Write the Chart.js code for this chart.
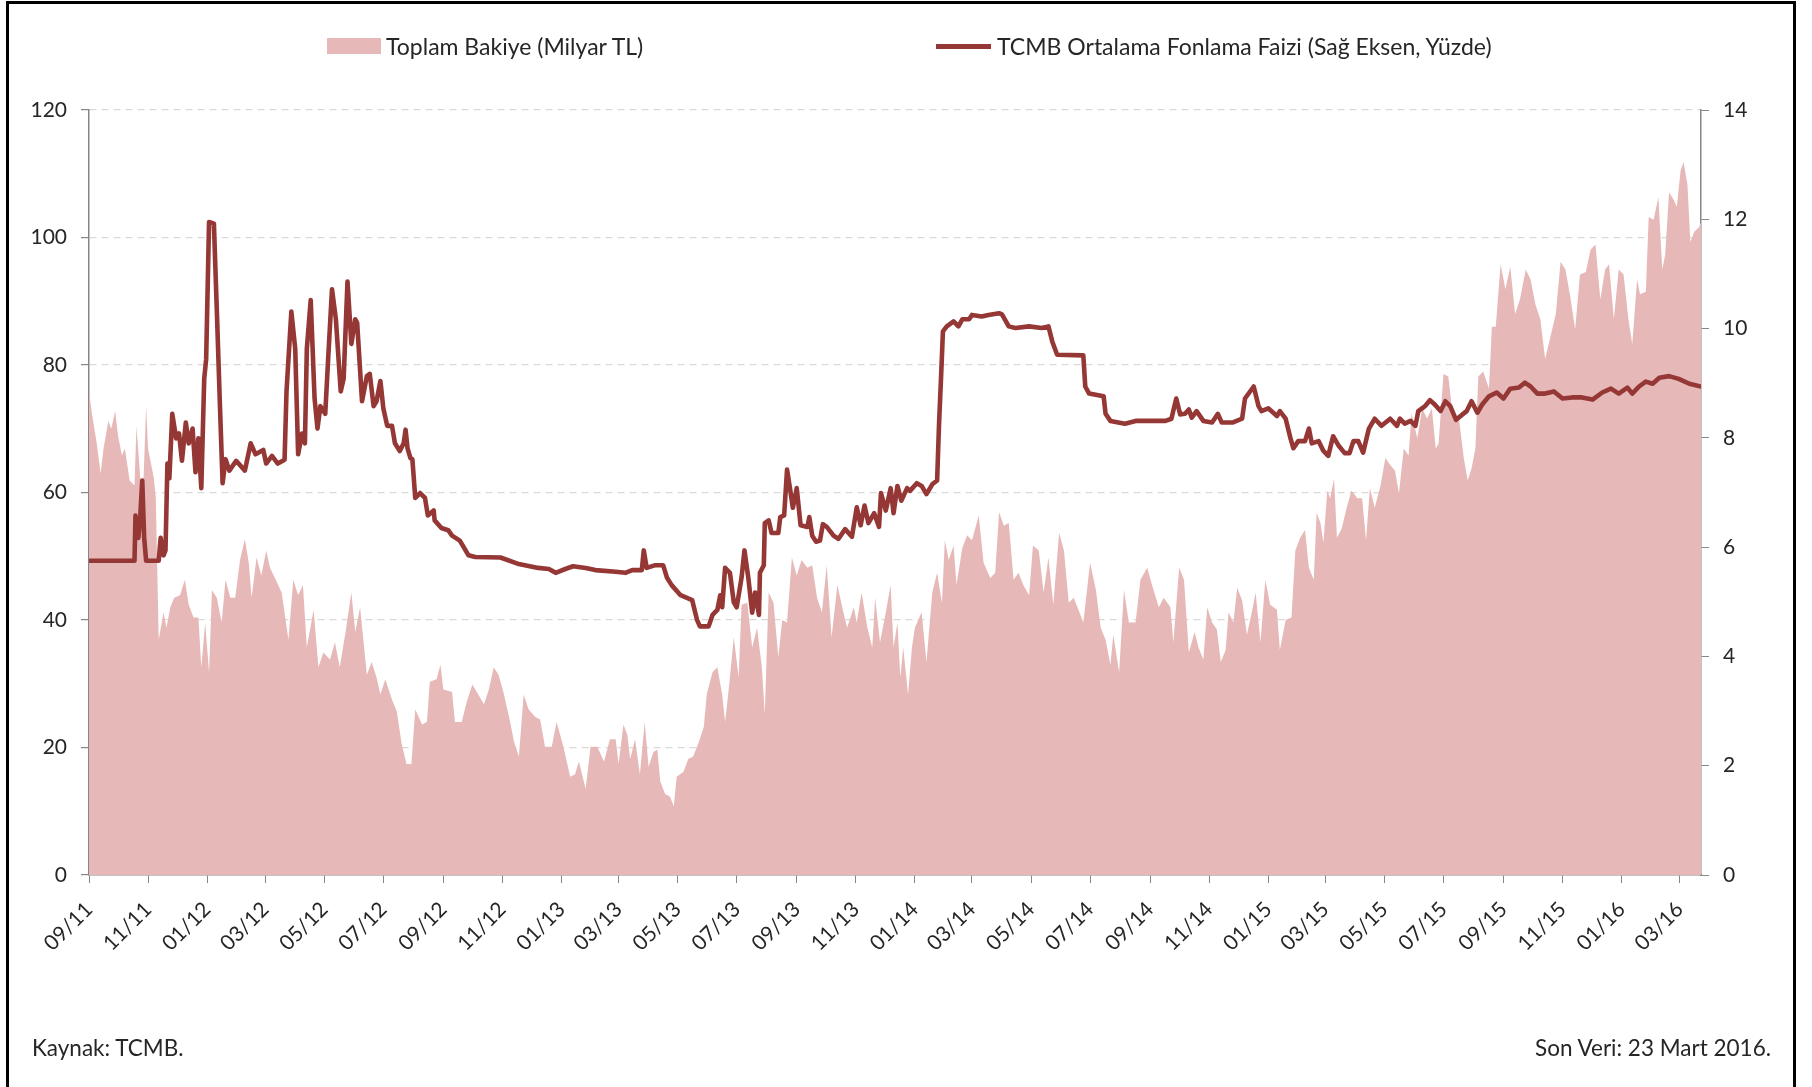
<!DOCTYPE html>
<html>
<head>
<meta charset="utf-8">
<script src="https://cdn.jsdelivr.net/npm/chart.js@4.4.0/dist/chart.umd.min.js"></script>
<style>
  body { margin: 0; background: #fff; width: 1812px; height: 1087px; overflow: hidden; position: relative; font-family: Lato, "Open Sans", sans-serif; color: #262626; }
  #frame { position: absolute; left: 6px; top: 1px; width: 1790px; height: 1100px; border: 3px solid #000; border-bottom: none; box-sizing: border-box; }
  #chart { position: absolute; left: 0; top: 0; }
  .txt { position: absolute; font-size: 23px; line-height: 26px; white-space: nowrap; }
  .foot { font-size: 22.5px; }
  .box { position: absolute; left: 327px; top: 38px; width: 54px; height: 16px; background: #e6b9b8; }
  .dash { position: absolute; left: 936px; top: 44px; width: 55px; height: 5px; background: #953735; }
</style>
</head>
<body>
<canvas id="chart" width="1812" height="1087"></canvas>
<div id="frame"></div>
<div class="box"></div>
<div class="txt" style="left:386px;top:33px">Toplam Bakiye (Milyar TL)</div>
<div class="dash"></div>
<div class="txt" style="left:997px;top:33px">TCMB Ortalama Fonlama Faizi (Sağ Eksen, Yüzde)</div>
<div class="txt foot" style="left:32px;top:1035px">Kaynak: TCMB.</div>
<div class="txt foot" style="right:41px;top:1035px">Son Veri: 23 Mart 2016.</div>
<script>
'use strict';

// gün sayısı: 1 Eylül 2011'den itibaren
var START = Date.UTC(2011, 8, 1);
var LAST = Date.UTC(2016, 2, 23);

var tickLabels = ['09/11', '11/11', '01/12', '03/12', '05/12', '07/12', '09/12', '11/12', '01/13', '03/13',
    '05/13', '07/13', '09/13', '11/13', '01/14', '03/14', '05/14', '07/14', '09/14', '11/14',
    '01/15', '03/15', '05/15', '07/15', '09/15', '11/15', '01/16', '03/16'];

var leftTicks = [0, 20, 40, 60, 80, 100, 120];
var rightTicks = [0, 2, 4, 6, 8, 10, 12, 14];

// TCMB Ortalama Fonlama Faizi (%)
var rateDays = [0, 47, 48, 51, 53, 55, 57, 59, 72, 74, 77, 79, 81, 83, 86, 90, 93, 96, 100, 103,
    107, 110, 113, 116, 119, 121, 124, 129, 132, 135, 138, 141, 145, 152, 161, 167, 172, 180, 183, 189,
    195, 202, 204, 209, 213, 216, 220, 223, 225, 229, 233, 236, 239, 244, 247, 251, 255, 260, 263, 267,
    271, 275, 277, 282, 287, 290, 294, 297, 301, 304, 308, 313, 316, 321, 325, 327, 329, 332, 334, 337,
    342, 347, 350, 356, 357, 364, 371, 375, 383, 387, 392, 399, 425, 444, 464, 475, 482, 492, 500, 513,
    523, 544, 554, 561, 571, 573, 576, 585, 593, 597, 602, 611, 623, 628, 631, 640, 644, 649, 652, 654,
    657, 662, 666, 669, 674, 677, 681, 685, 688, 692, 693, 697, 698, 702, 705, 712, 714, 718, 721, 724,
    727, 731, 735, 742, 744, 747, 751, 755, 758, 762, 769, 774, 781, 788, 793, 797, 801, 805, 811, 816,
    818, 823, 828, 831, 835, 839, 845, 848, 855, 860, 865, 871, 876, 878, 880, 882, 886, 893, 898, 902,
    909, 912, 922, 929, 940, 943, 950, 957, 971, 984, 991, 995, 1000, 1027, 1029, 1033, 1048, 1050, 1055, 1070,
    1081, 1112, 1118, 1123, 1127, 1132, 1136, 1139, 1144, 1151, 1160, 1166, 1170, 1181, 1191, 1194, 1203, 1208, 1211, 1218,
    1227, 1230, 1236, 1241, 1244, 1249, 1256, 1260, 1263, 1270, 1275, 1280, 1285, 1291, 1297, 1302, 1306, 1311, 1316, 1322,
    1328, 1335, 1344, 1351, 1354, 1359, 1365, 1370, 1373, 1380, 1385, 1390, 1396, 1401, 1406, 1412, 1418, 1423, 1428, 1434,
    1439, 1446, 1454, 1461, 1468, 1477, 1483, 1489, 1496, 1504, 1513, 1522, 1532, 1542, 1553, 1563, 1572, 1580, 1589, 1594,
    1601, 1608, 1615, 1622, 1632, 1642, 1653, 1665];
var rateValues = [5.75, 5.75, 6.58, 6.17, 6.58, 7.22, 6.17, 5.75, 5.75, 6.17, 5.85, 5.94, 7.53, 7.26, 8.44, 7.99, 8.08, 7.58, 8.28, 7.9,
    8.17, 7.37, 7.99, 7.08, 9.08, 9.44, 11.95, 11.92, 10.35, 8.72, 7.17, 7.61, 7.4, 7.58, 7.4, 7.9, 7.7, 7.78, 7.53, 7.67,
    7.53, 7.6, 8.85, 10.31, 9.63, 7.7, 8.08, 7.9, 9.63, 10.52, 8.72, 8.17, 8.58, 8.44, 9.44, 10.72, 10.17, 8.85, 9.08, 10.86,
    9.72, 10.17, 10.1, 8.67, 9.13, 9.17, 8.58, 8.67, 9.04, 8.54, 8.22, 8.22, 7.9, 7.76, 7.9, 8.15, 7.81, 7.63, 7.61, 6.9,
    6.99, 6.9, 6.58, 6.67, 6.49, 6.35, 6.31, 6.21, 6.12, 6.0, 5.85, 5.82, 5.81, 5.69, 5.62, 5.6, 5.53, 5.6, 5.65, 5.62,
    5.58, 5.55, 5.53, 5.58, 5.58, 5.94, 5.62, 5.67, 5.67, 5.44, 5.3, 5.12, 5.03, 4.67, 4.55, 4.55, 4.76, 4.85, 5.12, 4.9,
    5.62, 5.53, 4.99, 4.9, 5.44, 5.94, 5.44, 4.8, 5.17, 4.76, 5.53, 5.67, 6.44, 6.49, 6.26, 6.26, 6.55, 6.58, 7.42, 7.08,
    6.72, 7.08, 6.4, 6.37, 6.55, 6.21, 6.1, 6.12, 6.42, 6.37, 6.21, 6.15, 6.33, 6.19, 6.73, 6.4, 6.76, 6.44, 6.62, 6.37,
    6.99, 6.67, 7.08, 6.62, 7.12, 6.85, 7.08, 7.03, 7.17, 7.12, 6.97, 7.15, 7.22, 8.26, 9.08, 9.95, 10.04, 10.13, 10.04, 10.17,
    10.17, 10.25, 10.22, 10.25, 10.28, 10.26, 10.04, 10.01, 10.04, 10.01, 10.04, 9.76, 9.52, 9.51, 8.94, 8.81, 8.76, 8.44, 8.31, 8.26,
    8.31, 8.31, 8.35, 8.72, 8.43, 8.44, 8.52, 8.37, 8.49, 8.31, 8.28, 8.44, 8.28, 8.28, 8.35, 8.72, 8.94, 8.58, 8.49, 8.54,
    8.4, 8.49, 8.35, 7.99, 7.81, 7.94, 7.94, 8.17, 7.9, 7.94, 7.76, 7.67, 8.03, 7.85, 7.72, 7.72, 7.94, 7.94, 7.73, 8.17,
    8.35, 8.22, 8.35, 8.22, 8.35, 8.26, 8.31, 8.22, 8.49, 8.58, 8.69, 8.61, 8.49, 8.67, 8.58, 8.33, 8.42, 8.49, 8.67, 8.46,
    8.61, 8.76, 8.83, 8.72, 8.9, 8.92, 9.01, 8.94, 8.81, 8.81, 8.85, 8.72, 8.74, 8.74, 8.7, 8.83, 8.9, 8.81, 8.92, 8.81,
    8.94, 9.03, 8.99, 9.1, 9.13, 9.08, 8.99, 8.94];

// Toplam Bakiye (Milyar TL)
var balanceDays = [0, 3, 8, 12, 15, 20, 23, 27, 30, 34, 37, 42, 47, 49, 53, 56, 59, 61, 67, 69,
    72, 77, 80, 84, 88, 94, 99, 103, 108, 113, 116, 120, 124, 127, 132, 137, 141, 146, 151, 156,
    161, 165, 168, 173, 178, 183, 187, 192, 199, 206, 211, 216, 221, 225, 232, 237, 242, 249, 254, 259,
    265, 271, 275, 280, 287, 292, 297, 301, 306, 313, 318, 323, 328, 333, 337, 344, 349, 352, 359, 363,
    366, 375, 378, 385, 390, 396, 402, 408, 413, 418, 423, 428, 435, 439, 444, 449, 454, 461, 466, 471,
    478, 483, 490, 497, 502, 506, 513, 518, 525, 532, 538, 544, 547, 552, 556, 559, 564, 569, 574, 578,
    583, 587, 590, 595, 600, 604, 607, 614, 619, 624, 630, 635, 638, 644, 649, 654, 657, 661, 666, 671,
    674, 680, 685, 690, 695, 698, 702, 707, 712, 716, 721, 726, 731, 736, 742, 747, 752, 757, 762, 767,
    773, 778, 783, 790, 793, 798, 804, 809, 812, 817, 823, 828, 831, 835, 838, 841, 846, 850, 853, 860,
    865, 871, 876, 881, 884, 888, 893, 896, 902, 907, 912, 919, 924, 931, 936, 940, 945, 950, 955, 960,
    965, 971, 975, 981, 986, 991, 996, 1002, 1007, 1012, 1017, 1022, 1027, 1034, 1040, 1045, 1050, 1055, 1058, 1064,
    1069, 1074, 1081, 1086, 1093, 1098, 1105, 1110, 1117, 1120, 1126, 1131, 1136, 1142, 1146, 1151, 1155, 1160, 1165, 1169,
    1174, 1177, 1182, 1186, 1191, 1196, 1201, 1205, 1210, 1215, 1220, 1227, 1230, 1236, 1242, 1246, 1251, 1256, 1260, 1265,
    1268, 1272, 1275, 1279, 1282, 1286, 1289, 1294, 1299, 1304, 1310, 1315, 1319, 1323, 1328, 1334, 1339, 1344, 1349, 1353,
    1358, 1363, 1366, 1372, 1377, 1382, 1387, 1391, 1394, 1399, 1404, 1409, 1415, 1420, 1424, 1428, 1432, 1435, 1440, 1446,
    1449, 1453, 1458, 1463, 1468, 1473, 1478, 1484, 1489, 1494, 1499, 1504, 1509, 1515, 1520, 1525, 1530, 1535, 1540, 1546,
    1551, 1556, 1561, 1566, 1570, 1575, 1580, 1585, 1590, 1594, 1599, 1602, 1608, 1611, 1616, 1621, 1625, 1628, 1632, 1637,
    1640, 1644, 1647, 1651, 1654, 1658, 1663, 1665];
var balanceValues = [75.9, 72.4, 67.7, 63, 66.9, 71.2, 70, 72.8, 68.9, 65.8, 66.9, 61.9, 61.1, 70.4, 62.2, 60.7, 73.6, 66.9, 62.2, 59.1,
    36.9, 41.2, 38.8, 42, 43.5, 43.9, 46.3, 42.4, 40.4, 40.4, 32.6, 39.6, 31.8, 44.7, 43.5, 39.6, 46.3, 43.5, 43.5, 49.4,
    52.7, 49, 43.5, 49.8, 47, 50.9, 48.2, 46.6, 44.3, 36.9, 46.3, 43.9, 45.5, 35.7, 41.6, 32.6, 34.9, 33.8, 36.5, 32.6,
    38.1, 44.3, 38.1, 42, 31.4, 33.4, 31, 28.3, 30.7, 27.5, 25.6, 20.5, 17.4, 17.4, 26, 23.6, 24, 30.3, 30.7, 33,
    29.1, 28.7, 24, 24, 27.1, 29.9, 28.3, 26.8, 29.1, 32.6, 31.4, 28.7, 24, 20.9, 18.6, 28.3, 26, 24.8, 24.4, 20.1,
    20.1, 24, 20.1, 15.4, 15.8, 17.8, 13.5, 20.1, 20.1, 17.8, 21.3, 21.3, 17.4, 23.6, 22, 18.2, 21.3, 15.8, 24, 17,
    19.3, 19.7, 14.7, 12.7, 12.3, 10.8, 15.4, 16.2, 18.2, 18.6, 20.9, 23.2, 28.3, 31.8, 32.6, 28.3, 24, 29.5, 37.3, 31,
    42.4, 42.7, 35.7, 38.8, 32.6, 25.2, 44.3, 42.7, 34.2, 40, 39.6, 49.8, 47, 49.4, 48.2, 48.6, 43.5, 41.2, 48.6, 37.3,
    45.5, 42, 38.8, 42, 39.6, 44.3, 38.8, 35.7, 43.5, 36.5, 41.2, 45.5, 35.7, 39.6, 31, 35.7, 28.3, 35.7, 38.8, 41.2,
    33.4, 44.3, 47.4, 42.7, 52.5, 49.4, 51.7, 45.5, 51.3, 53.3, 52.5, 56.4, 49, 46.6, 47.4, 56.9, 54.8, 55.2, 46.3, 47.4,
    45.5, 43.9, 51.7, 50.9, 44.3, 49.8, 42.4, 53.7, 50.9, 42.7, 43.5, 41.6, 39.6, 49, 44.7, 38.8, 36.9, 33, 37.7, 31.8,
    44.7, 39.6, 39.6, 46.3, 48.2, 45.5, 42, 43.5, 42, 36.5, 48.2, 46.3, 34.9, 38.1, 35.7, 33.8, 42, 39.6, 38.5, 33.4,
    35.3, 41.2, 39.6, 45.1, 43.1, 37.7, 41.2, 44.3, 36.5, 46.3, 42.4, 41.6, 35.3, 40, 40.4, 50.9, 52.9, 54.1, 48.2, 46.3,
    56.8, 55.2, 52.1, 60.3, 59.1, 62.2, 52.9, 54.4, 57.6, 60.3, 59.1, 59.1, 52.5, 60.7, 57.6, 61.1, 65.4, 64.3, 63.4, 59.9,
    66.9, 65.8, 72.4, 68.5, 73.2, 71.6, 73.2, 66.9, 67.7, 78.6, 78.2, 71.6, 71.6, 65.4, 61.9, 63.8, 66.9, 78.2, 79, 76.3,
    86, 86, 95.8, 91.9, 95.4, 88, 90.3, 95, 93.4, 89.5, 87.2, 81, 84.1, 88, 96.2, 95, 90.7, 85.6, 94.2, 94.6,
    98.1, 98.9, 90.3, 95, 95.8, 87.2, 95, 94.2, 87.2, 83.3, 93.4, 91.1, 91.5, 103.2, 102.8, 106.3, 95, 97.3, 107.1, 105.9,
    104.8, 110.6, 111.8, 108.3, 99.3, 100.9, 101.6, 102.4];

function toDay(lbl) {
    var p = lbl.split('/');
    return (Date.UTC(2000 + Number(p[1]), Number(p[0]) - 1, 1) - START) / 864e5;
}
var tickDays = tickLabels.map(toDay);

function points(days, vals) {
    return days.map(function (d, i) { return {x: d, y: vals[i]}; });
}

var axisColor = '#868686';
var textColor = '#262626';
var tickFont = {family: 'Lato', size: 21};

var ctx = document.getElementById('chart').getContext('2d');
var myChart = new Chart(ctx, {
    type: 'line',
    data: {
        datasets: [{
            label: 'TCMB Ortalama Fonlama Faizi (Sağ Eksen, Yüzde)',
            data: points(rateDays, rateValues),
            yAxisID: 'y1',
            borderColor: '#953735',
            borderWidth: 4.6,
            borderJoinStyle: 'round',
            borderCapStyle: 'round',
            pointRadius: 0,
            fill: false,
            tension: 0,
            order: 1
        }, {
            label: 'Toplam Bakiye (Milyar TL)',
            data: points(balanceDays, balanceValues),
            yAxisID: 'y',
            backgroundColor: '#e6b9b8',
            borderWidth: 0,
            pointRadius: 0,
            fill: 'origin',
            tension: 0,
            order: 2
        }]
    },
    options: {
        responsive: false,
        animation: false,
        layout: {padding: {top: 110, left: 0, right: 0, bottom: 0}},
        plugins: {
            legend: {display: false},
            tooltip: {enabled: false}
        },
        scales: {
            x: {
                type: 'linear',
                min: 0,
                max: (LAST - START) / 864e5,
                afterBuildTicks: function (s) {
                    s.ticks = tickDays.map(function (v) { return {value: v}; });
                },
                afterFit: function (s) { s.height = 212; },
                ticks: {
                    autoSkip: false,
                    maxRotation: 45,
                    minRotation: 45,
                    padding: 14,
                    color: textColor,
                    font: tickFont,
                    callback: function (v, i) { return tickLabels[i]; }
                },
                grid: {drawOnChartArea: false, drawTicks: true, tickLength: 8, tickColor: axisColor},
                border: {color: axisColor, width: 1.5}
            },
            y: {
                position: 'left',
                min: 0,
                max: 120,
                afterBuildTicks: function (s) {
                    s.ticks = leftTicks.map(function (v) { return {value: v}; });
                },
                afterFit: function (s) { s.width = 89; },
                ticks: {padding: 14, color: textColor, font: tickFont},
                grid: {
                    color: function (c) { return c.tick && c.tick.value === 0 ? 'rgba(0,0,0,0)' : '#d9d9d9'; },
                    lineWidth: 1.2,
                    tickLength: 8,
                    tickColor: axisColor
                },
                border: {color: axisColor, width: 1.5, dash: [7, 5]}
            },
            y1: {
                position: 'right',
                min: 0,
                max: 14,
                afterBuildTicks: function (s) {
                    s.ticks = rightTicks.map(function (v) { return {value: v}; });
                },
                afterFit: function (s) { s.width = 111; },
                ticks: {padding: 14, color: textColor, font: tickFont},
                grid: {drawOnChartArea: false, tickLength: 8, tickColor: axisColor},
                border: {color: axisColor, width: 1.5}
            }
        }
    }
});
</script>
</body>
</html>
